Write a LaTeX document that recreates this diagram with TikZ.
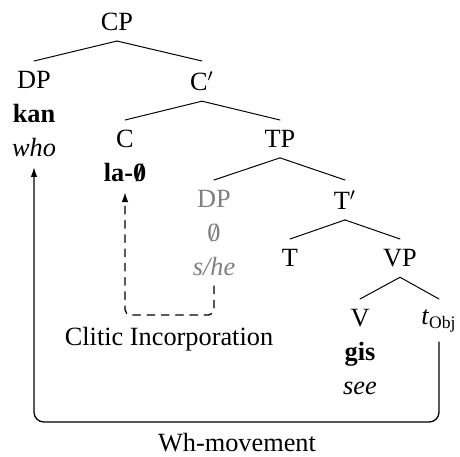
\documentclass[tikz,border=0pt]{standalone}
\usepackage{fontspec}
\setmainfont{Liberation Serif}
\usetikzlibrary{arrows.meta}

% slashed zero for the null clitic
\newcommand{\emptyzero}{\ooalign{0\cr\hidewidth/\hidewidth\cr}}

\begin{document}
\begin{tikzpicture}[x=0.456pt, y=-0.456pt, line cap=round, line join=round,
  cat/.style={inner sep=4.5pt, align=center, font=\fontsize{12}{15.5}\selectfont},
  pro/.style={cat, text=black!50},
  branch/.style={line width=0.45pt},
  whmove/.style={line width=0.6pt, rounded corners=4.5pt, -{Latex[length=4.5pt, width=3pt]}},
  clmove/.style={whmove, dash pattern=on 3.5pt off 3pt, rounded corners=2.5pt}]

% Fix the page size
\useasboundingbox (0,0) rectangle (460,456);

% Tree nodes, top to bottom
\node[cat, anchor=south] (cp) at (117,41) {CP};
\node[cat, anchor=north] (dp) at (34,61) {DP\\\textbf{kan}\\\textit{who}};
\node[cat, anchor=north] (cbar) at (202,61) {C$'$};
\node[cat, anchor=north] (c) at (125,120) {C\\\textbf{la-\emptyzero}};
\node[cat, anchor=north] (tp) at (280,120) {TP};
\node[pro, anchor=north] (dpsubj) at (214,180) {DP\\\emptyzero\\\textit{s/he}};
\node[cat, anchor=north] (tbar) at (345,180) {T$'$};
\node[cat, anchor=north] (t) at (290,239) {T};
\node[cat, anchor=north] (vp) at (400,239) {VP};
\node[cat, anchor=north] (v) at (360,299) {V\\\textbf{gis}\\\textit{see}};
\node[cat, anchor=north] (tobj) at (439,299) {\textit{t}\textsubscript{Obj}};

% Branches
\draw[branch] (cp.south) -- (dp.north);
\draw[branch] (cp.south) -- (cbar.north);
\draw[branch] (cbar.south) -- (c.north);
\draw[branch] (cbar.south) -- (tp.north);
\draw[branch] (tp.south) -- (dpsubj.north);
\draw[branch] (tp.south) -- (tbar.north);
\draw[branch] (tbar.south) -- (t.north);
\draw[branch] (tbar.south) -- (vp.north);
\draw[branch] (vp.south) -- (v.north);
\draw[branch] (vp.south) -- (tobj.north);

% Movement paths
\coordinate (clbot) at (170,315);
\coordinate (whbot) at (237,422);
\draw[clmove] (dpsubj.south) |- (clbot) -| (c.south);
\draw[whmove] (tobj.south) |- (whbot) -| (dp.south);

% Path labels
\node[cat, anchor=base] (cllabel) at (169,345) {Clitic Incorporation};
\node[cat, anchor=base] (whlabel) at (237,451) {Wh-movement};

\end{tikzpicture}
\end{document}
